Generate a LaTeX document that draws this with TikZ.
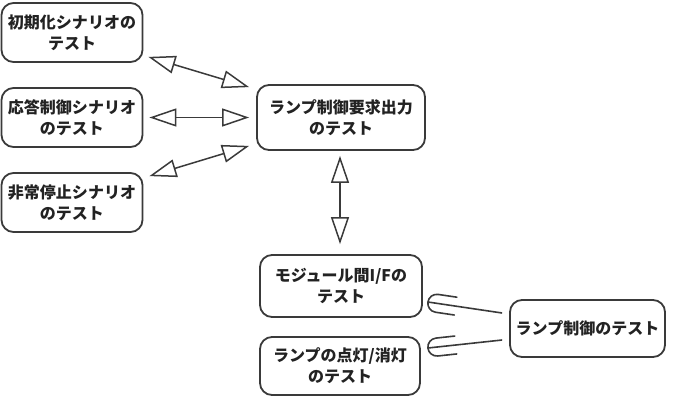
\documentclass[tikz,border=0pt]{standalone}
\usepackage{fontspec}
\setmainfont{Noto Sans CJK JP}
\usetikzlibrary{arrows.meta,calc,decorations.markings}

\definecolor{edge}{HTML}{3A3A3A}
\definecolor{ink}{HTML}{222222}

\tikzset{
  testbox/.style={draw=edge, line width=1.8pt, rounded corners=12pt,
    fill=white, text=ink, align=center, inner sep=0pt,
    font=\fontsize{16pt}{21pt}\selectfont\bfseries},
  tri/.tip={Triangle[open, length=27pt, width=18pt]},
  biarrow/.style={draw=edge, line width=1.5pt, {tri}-{tri}},
  % "element of" style head: half circle with two arms, bar running inside
  elemhead/.style={draw=edge, line width=1.6pt,
    postaction={decorate, decoration={markings,
      mark=at position 1 with {
        \draw[edge, line width=1.6pt, line cap=round]
          (-28pt,9pt) -- (-9pt,9pt) arc (90:-90:9pt) -- (-28pt,-9pt);
      }}}},
}

\begin{document}
\begin{tikzpicture}[x=1pt, y=-1pt]
  \useasboundingbox (0,0) rectangle (674,402);

  % scenario tests on the left
  \node[testbox, minimum width=141pt, minimum height=59pt] (init) at (72,32.5)
    {初期化シナリオの\\テスト};
  \node[testbox, minimum width=141pt, minimum height=59pt] (resp) at (72,117.5)
    {応答制御シナリオ\\のテスト};
  \node[testbox, minimum width=141pt, minimum height=59pt] (emer) at (72,202.5)
    {非常停止シナリオ\\のテスト};

  % lamp control request output
  \node[testbox, minimum width=168pt, minimum height=65pt] (req) at (341,117.5)
    {ランプ制御要求出力\\のテスト};

  % lower part
  \node[testbox, minimum width=162pt, minimum height=62pt] (mod) at (341,286)
    {モジュール間I/Fの\\テスト};
  \node[testbox, minimum width=160pt, minimum height=58pt] (lamp) at (340,366)
    {ランプの点灯/消灯\\のテスト};
  \node[testbox, minimum width=155pt, minimum height=57pt] (ctrl) at (587.5,328.5)
    {ランプ制御のテスト};

  % bidirectional links
  \draw[biarrow] ($(init.south east)+(5,-6)$) -- ($(req.north west)+(-7,3)$);
  \draw[biarrow] ($(resp.east)+(6,0)$) -- ($(req.west)+(-7,0)$);
  \draw[biarrow] ($(emer.north east)+(6,4)$) -- ($(req.south west)+(-7,-5)$);
  \draw[biarrow] ($(req.south)+(-1,5)$) -- ($(mod.north)+(-1,-10)$);

  % inclusion links
  \draw[elemhead] ($(ctrl.west)+(-7,-15.5)$) -- ($(mod.east)+(5,16)$);
  \draw[elemhead] ($(ctrl.west)+(-7,11.5)$) -- ($(lamp.east)+(7,-18)$);
\end{tikzpicture}
\end{document}
